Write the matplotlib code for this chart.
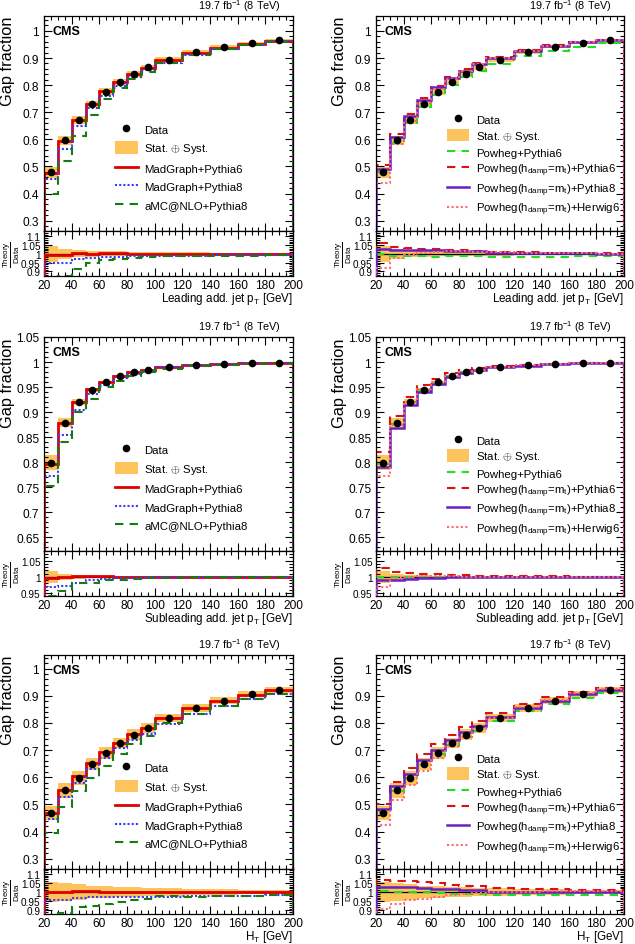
import numpy as np
import matplotlib
matplotlib.use("Agg")
import matplotlib.pyplot as plt
from matplotlib.ticker import MultipleLocator, FuncFormatter
from matplotlib.lines import Line2D
from matplotlib.patches import Patch

plt.rcParams['font.family'] = ['Liberation Sans', 'DejaVu Sans']
plt.rcParams['mathtext.fontset'] = 'custom'
plt.rcParams['mathtext.rm'] = 'Liberation Sans'
plt.rcParams['mathtext.it'] = 'Liberation Sans:italic'
plt.rcParams['mathtext.bf'] = 'Liberation Sans:bold'

# ---------------- data ----------------
bin_edges = [20, 30, 40, 50, 60, 70, 80, 90, 100, 120, 140, 160, 180, 200]

lead_data = [0.478, 0.596, 0.671, 0.730, 0.776, 0.811, 0.841, 0.866, 0.894, 0.922, 0.942, 0.956, 0.966]
lead_err = [0.045, 0.030, 0.020, 0.016, 0.015, 0.014, 0.012, 0.011, 0.010, 0.008, 0.006, 0.005, 0.004]
sub_data = [0.799, 0.879, 0.920, 0.945, 0.960, 0.972, 0.980, 0.985, 0.991, 0.994, 0.996, 0.998, 0.999]
sub_err = [0.019, 0.010, 0.006, 0.004, 0.003, 0.003, 0.002, 0.002, 0.002, 0.001, 0.001, 0.001, 0.001]
ht_data = [0.468, 0.552, 0.598, 0.648, 0.689, 0.726, 0.757, 0.781, 0.818, 0.855, 0.882, 0.905, 0.922]
ht_err = [0.055, 0.050, 0.043, 0.033, 0.031, 0.026, 0.025, 0.024, 0.020, 0.016, 0.014, 0.012, 0.011]

# Theory / Data ratios
lead_mg_py6 = [0.995, 0.995, 1.003, 1.001, 1.003, 1.002, 0.999, 0.998, 0.997, 0.997, 0.996, 0.997, 0.997]
lead_mg_py8 = [0.948, 0.950, 0.968, 0.978, 0.980, 0.984, 0.986, 0.988, 0.988, 0.990, 0.991, 0.993, 0.995]
lead_amc_py8 = [0.837, 0.874, 0.913, 0.946, 0.963, 0.972, 0.978, 0.980, 0.985, 0.988, 0.990, 0.990, 0.991]
lead_pw_py6 = [1.000, 0.985, 0.985, 0.985, 0.984, 0.985, 0.985, 0.985, 0.984, 0.984, 0.984, 0.985, 0.988]
lead_pwh_py6 = [1.060, 1.037, 1.032, 1.030, 1.027, 1.024, 1.020, 1.017, 1.010, 1.008, 1.005, 1.004, 1.002]
lead_pwh_py8 = [1.030, 1.022, 1.022, 1.020, 1.020, 1.017, 1.015, 1.013, 1.007, 1.005, 1.003, 1.002, 1.001]
lead_pwh_hw6 = [0.920, 0.978, 0.995, 1.005, 1.012, 1.015, 1.015, 1.012, 1.008, 1.005, 1.004, 1.002, 1.001]

sub_mg_py6 = [0.997, 1.000, 1.001, 1.001, 1.001, 1.000, 1.000, 1.000, 1.000, 1.000, 1.000, 1.000, 1.000]
sub_mg_py8 = [0.968, 0.972, 0.982, 0.990, 0.994, 0.996, 0.997, 0.998, 0.999, 1.000, 1.000, 1.000, 1.000]
sub_amc_py8 = [0.941, 0.956, 0.979, 0.980, 0.989, 0.990, 0.993, 0.995, 0.996, 0.998, 0.999, 0.999, 0.999]
sub_pw_py6 = [0.998, 0.998, 1.000, 1.000, 1.000, 1.000, 1.000, 1.000, 1.000, 1.000, 1.000, 1.000, 1.000]
sub_pwh_py6 = [1.027, 1.016, 1.011, 1.009, 1.007, 1.006, 1.004, 1.003, 1.002, 1.001, 1.001, 1.000, 1.000]
sub_pwh_py8 = [0.989, 0.989, 0.993, 0.995, 0.997, 0.998, 0.998, 0.999, 0.999, 0.999, 1.000, 1.000, 1.000]
sub_pwh_hw6 = [0.968, 0.995, 1.000, 1.001, 1.001, 1.001, 1.000, 1.000, 1.000, 1.000, 1.000, 1.000, 1.000]

ht_mg_py6 = [1.000, 1.000, 1.008, 1.005, 1.003, 1.002, 1.002, 1.002, 1.000, 0.999, 0.998, 0.998, 0.998]
ht_mg_py8 = [0.955, 0.957, 0.970, 0.975, 0.975, 0.973, 0.972, 0.973, 0.974, 0.976, 0.977, 0.980, 0.983]
ht_amc_py8 = [0.844, 0.887, 0.918, 0.922, 0.932, 0.945, 0.955, 0.963, 0.976, 0.975, 0.977, 0.980, 0.985]
ht_pw_py6 = [1.008, 0.998, 1.000, 0.998, 0.994, 0.990, 0.990, 0.988, 0.986, 0.985, 0.985, 0.985, 0.986]
ht_pwh_py6 = [1.068, 1.058, 1.060, 1.055, 1.048, 1.041, 1.035, 1.031, 1.024, 1.018, 1.015, 1.011, 1.009]
ht_pwh_py8 = [1.030, 1.025, 1.026, 1.021, 1.018, 1.015, 1.012, 1.010, 1.003, 1.001, 1.000, 1.000, 1.000]
ht_pwh_hw6 = [0.908, 0.932, 0.955, 0.960, 0.972, 0.983, 0.990, 0.994, 0.999, 1.003, 1.004, 1.004, 1.004]

left_labels = ['MadGraph+Pythia6', 'MadGraph+Pythia8', 'aMC@NLO+Pythia8']
right_labels = ['Powheg+Pythia6',
                r'Powheg($\mathrm{h_{damp}}$=$\mathrm{m_{t}}$)+Pythia6',
                r'Powheg($\mathrm{h_{damp}}$=$\mathrm{m_{t}}$)+Pythia8',
                r'Powheg($\mathrm{h_{damp}}$=$\mathrm{m_{t}}$)+Herwig6']
xlabels = [r'Leading add. jet p$_{\rm T}$ [GeV]',
           r'Subleading add. jet p$_{\rm T}$ [GeV]',
           r'H$_{\rm T}$ [GeV]']

# ---------------- styles ----------------
BAND = '#fdc35c'
left_styles = [dict(color='#e00000', ls='-', lw=2.0),
               dict(color='#3a3aff', ls=(0, (1, 1)), lw=1.5),
               dict(color='#167a16', ls=(0, (4, 3)), lw=1.5)]
right_styles = [dict(color='#22dd22', ls=(0, (4, 3)), lw=1.5),
                dict(color='#dd1111', ls=(0, (4, 3)), lw=1.5),
                dict(color='#6a1fc4', ls='-', lw=1.8),
                dict(color='#ff6a6a', ls=(0, (1, 1.2)), lw=1.5)]

FIG_W, FIG_H = 635, 945
fig = plt.figure(figsize=(FIG_W / 100, FIG_H / 100), dpi=100)

cols = [(44, 249), (376, 248)]
rows = [(17, 232, 277), (338, 552, 597), (656, 870, 915)]
main_ylims = [(0.262, 1.055), (0.623, 1.05), (0.262, 1.05)]
main_major = [0.1, 0.05, 0.1]
main_minor = [0.02, 0.01, 0.02]
ratio_ylims = [(0.873, 1.13), (0.94, 1.08), (0.88, 1.126)]
xlabel_pads = [-0.6, -0.6, -0.6]

row_data = [(lead_data, lead_err, [lead_mg_py6, lead_mg_py8, lead_amc_py8],
             [lead_pw_py6, lead_pwh_py6, lead_pwh_py8, lead_pwh_hw6]),
            (sub_data, sub_err, [sub_mg_py6, sub_mg_py8, sub_amc_py8],
             [sub_pw_py6, sub_pwh_py6, sub_pwh_py8, sub_pwh_hw6]),
            (ht_data, ht_err, [ht_mg_py6, ht_mg_py8, ht_amc_py8],
             [ht_pw_py6, ht_pwh_py6, ht_pwh_py8, ht_pwh_hw6])]

edges = np.array(bin_edges, dtype=float)
centers = 0.5 * (edges[1:] + edges[:-1])
fmt = FuncFormatter(lambda v, p: ('%g' % round(v, 4)))
TICK_FS = 8.6
LEG_FS = 8.2


def style_axes(ax):
    ax.tick_params(which='both', direction='in', top=True, right=True,
                   labelsize=TICK_FS, width=0.8)
    ax.tick_params(which='major', length=6)
    ax.tick_params(which='minor', length=3)
    for s in ax.spines.values():
        s.set_linewidth(0.9)
    ax.xaxis.set_major_locator(MultipleLocator(20))
    ax.xaxis.set_minor_locator(MultipleLocator(5))
    ax.set_xlim(20, 200)


for r, (top, mid, bot) in enumerate(rows):
    data, err, lmodels, rmodels = row_data[r]
    data = np.array(data)
    err = np.array(err)
    for c, (x0, w) in enumerate(cols):
        models = lmodels if c == 0 else rmodels
        styles = left_styles if c == 0 else right_styles
        labels = left_labels if c == 0 else right_labels
        axm = fig.add_axes([x0 / FIG_W, 1 - mid / FIG_H, w / FIG_W, (mid - top) / FIG_H])
        axr = fig.add_axes([x0 / FIG_W, 1 - bot / FIG_H, w / FIG_W, (bot - mid) / FIG_H])
        style_axes(axm)
        style_axes(axr)

        # main panel
        axm.stairs(data * (1 + err), edges, baseline=data * (1 - err), fill=True,
                   color=BAND, lw=0, zorder=1)
        for m, st in zip(models, styles):
            axm.stairs(data * np.array(m), edges, zorder=2, **st)
        axm.plot(centers, data, 'o', color='black', ms=4.5, zorder=5)
        axm.set_ylim(*main_ylims[r])
        axm.yaxis.set_major_locator(MultipleLocator(main_major[r]))
        axm.yaxis.set_minor_locator(MultipleLocator(main_minor[r]))
        axm.yaxis.set_major_formatter(fmt)
        axm.tick_params(labelbottom=False)
        axm.set_ylabel('Gap fraction', fontsize=11.8, loc='top')
        axm.yaxis.set_label_coords(-29 / w, 1.0)
        axm.text(0.036, 0.93, 'CMS', fontsize=9, fontweight='bold',
                 transform=axm.transAxes, va='center', ha='left')
        axm.text(0.95, 1.012, r'19.7 fb$^{-1}$ (8 TeV)', fontsize=7.8,
                 transform=axm.transAxes, va='bottom', ha='right')

        handles = [Line2D([], [], marker='o', color='black', ls='none', ms=4.5),
                   Patch(facecolor=BAND, edgecolor='none')]
        handles += [Line2D([], [], **st) for st in styles]
        leg_labels = ['Data', r'Stat. $\oplus$ Syst.'] + labels
        ly = 0.297 if c == 0 else 0.305
        axm.legend(handles, leg_labels, loc='center left',
                   bbox_to_anchor=(0.285, ly), frameon=False,
                   fontsize=LEG_FS, handlelength=2.0, handleheight=1.3,
                   handletextpad=0.55, labelspacing=0.55 if c == 0 else 0.28,
                   borderpad=0, borderaxespad=0)

        # ratio panel
        axr.stairs(1 + err, edges, baseline=1 - err, fill=True, color=BAND, lw=0, zorder=1)
        axr.axhline(1.0, color='black', lw=0.9, zorder=2)
        for m, st in zip(models, styles):
            axr.stairs(np.array(m), edges, zorder=3, **st)
        axr.set_ylim(*ratio_ylims[r])
        axr.yaxis.set_major_locator(MultipleLocator(0.05))
        axr.yaxis.set_minor_locator(MultipleLocator(0.01))
        axr.yaxis.set_major_formatter(fmt)
        axr.tick_params(axis='y', labelsize=7.2, pad=2.5)
        axr.tick_params(axis='x', pad=2.0)
        axr.set_ylabel(r'$\frac{\rm Theory}{\rm Data}$', fontsize=8.2)
        axr.yaxis.set_label_coords(-22 / w, 0.5)
        axr.set_xlabel(xlabels[r], fontsize=8.4, loc='right', labelpad=xlabel_pads[r])
        axr.xaxis.set_major_formatter(fmt)

fig.savefig('out.png', dpi=100)
